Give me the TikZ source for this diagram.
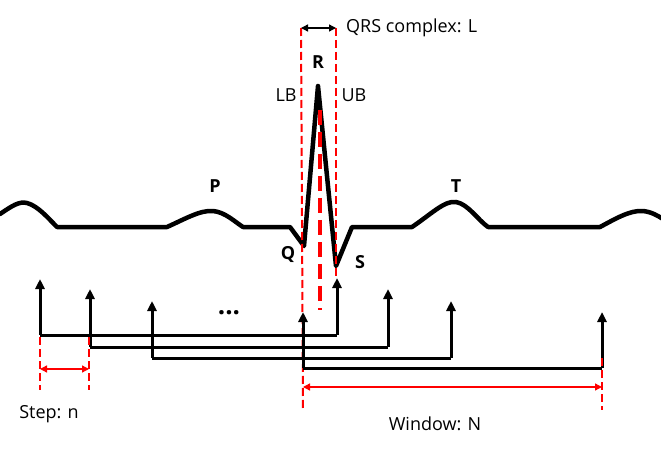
\documentclass[tikz,border=0pt]{standalone}
\usepackage{fontspec}
\setmainfont{Open Sans}
\usetikzlibrary{arrows.meta}
\tikzset{
  ecg/.style={line width=4.5pt, line join=round, line cap=round},
  redthin/.style={draw=red, line width=2pt, dash pattern=on 8pt off 4pt},
  redthick/.style={draw=red, line width=4.5pt, dash pattern=on 15pt off 7pt},
  blk/.style={line width=3pt, -{Triangle[length=10pt,width=9pt]}},
  win/.style={line width=3pt},
  redarr/.style={draw=red, line width=1.3pt, {Triangle[length=7pt,width=7pt]}-{Triangle[length=7pt,width=7pt]}},
  qrsarr/.style={line width=1.3pt, {Triangle[length=7pt,width=7pt]}-{Triangle[length=7pt,width=7pt]}},
  lbl/.style={inner sep=0pt, font=\fontsize{18}{20}\selectfont},
  wave/.style={inner sep=0pt, font=\fontsize{18}{20}\selectfont\bfseries},
}
\begin{document}
\begin{tikzpicture}[x=1pt,y=-1pt]
\useasboundingbox (0,0) rectangle (661,449);
% ECG trace
\draw[ecg] (0,214) .. controls (12,206) and (19,201) .. (27,203)
  .. controls (38,206) and (48,218) .. (57,227) -- (167,227)
  .. controls (185,219) and (200,210) .. (213,211)
  .. controls (225,212) and (235,222) .. (243,227) -- (290,227)
  -- (304,246) -- (318,86) -- (336,266) -- (352,227) -- (412,227)
  .. controls (430,215) and (445,200) .. (456,202)
  .. controls (468,204) and (478,220) .. (488,227) -- (600,227)
  .. controls (615,219) and (630,210) .. (643,211)
  .. controls (652,212) and (658,216) .. (663,219);
% red boundaries
\coordinate (lbt) at (301,28);
\coordinate (lbb) at (303,410);
\coordinate (ubt) at (336,28);
\coordinate (ubb) at (336,278);
\coordinate (ct) at (320,110);
\coordinate (cb) at (320,310);
\draw[redthin] (lbt) -- (lbb);
\draw[redthin] (ubt) -- (ubb);
\draw[redthick] (ct) -- (cb);
\draw[qrsarr] (lbt) -- (ubt);
% labels
\node[lbl, anchor=west] (qrs) at (346,28) {QRS complex: L};
\node[wave] (R) at (318,62) {R};
\node[lbl] (LB) at (286,95) {LB};
\node[lbl] (UB) at (354,95) {UB};
\node[wave] (P) at (215,186) {P};
\node[wave] (T) at (456,186) {T};
\node[wave] (Q) at (288,255) {Q};
\node[wave] (S) at (360,262) {S};
\node[inner sep=0pt, font=\fontsize{26}{28}\selectfont\bfseries] (dots) at (229,313) {...};
% windows
\coordinate (a1) at (40,335); \coordinate (a1t) at (40,279);
\coordinate (b1) at (337,335); \coordinate (b1t) at (337,278);
\coordinate (a2) at (90,347); \coordinate (a2t) at (90,289);
\coordinate (b2) at (388,347); \coordinate (b2t) at (388,289);
\coordinate (a3) at (152,358); \coordinate (a3t) at (152,301);
\coordinate (b3) at (451,358); \coordinate (b3t) at (451,301);
\coordinate (a4) at (303,368); \coordinate (a4t) at (303,312);
\coordinate (b4) at (602,368); \coordinate (b4t) at (602,312);
\foreach \i in {1,2,3,4}{
  \draw[win] (a\i) -- (b\i);
  \draw[blk] (a\i) -- (a\i t);
  \draw[blk] (b\i) -- (b\i t);
}
% step
\coordinate (s1t) at (40,337); \coordinate (s1b) at (40,390);
\coordinate (s2t) at (89,337); \coordinate (s2b) at (89,390);
\draw[redthin] (s1t) -- (s1b);
\draw[redthin] (s2t) -- (s2b);
\coordinate (sa) at (40,369); \coordinate (sb) at (89,369);
\draw[redarr] (sa) -- (sb);
\node[lbl] (step) at (49,414) {Step: n};
% window
\coordinate (w2t) at (602,358); \coordinate (w2b) at (602,410);
\draw[redthin] (w2t) -- (w2b);
\coordinate (wa) at (303,387); \coordinate (wb) at (602,387);
\draw[redarr] (wa) -- (wb);
\node[lbl] (window) at (435,424) {Window: N};
\end{tikzpicture}
\end{document}
